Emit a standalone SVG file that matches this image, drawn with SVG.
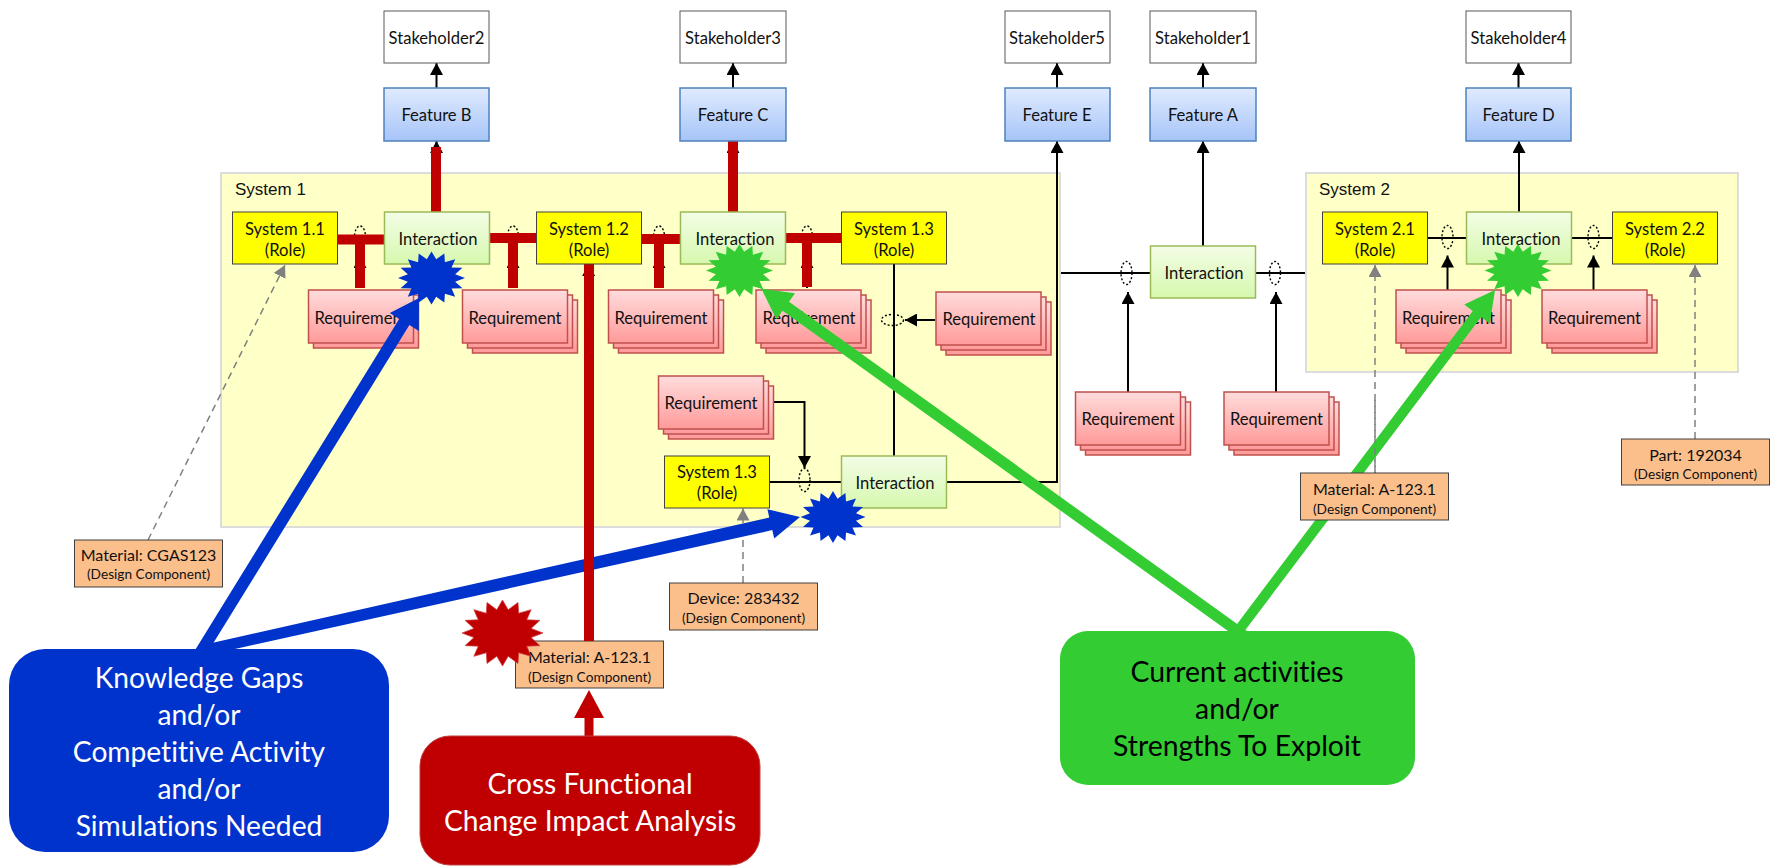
<svg xmlns="http://www.w3.org/2000/svg" xmlns:xlink="http://www.w3.org/1999/xlink" width="1775" height="866" viewBox="0 0 1775 866">
<style>
text{font-family:Lato,"Liberation Sans",sans-serif;fill:#111;text-anchor:middle;font-size:16.6px;font-variant-ligatures:none;transform:translateY(.7px)}
.sysbg{fill:#ffffc8;stroke:#dcdcdc;stroke-width:2}
text.syslab{font-family:"Liberation Sans",Arial,sans-serif;text-anchor:start;font-size:17px}
.sh{fill:#fff;stroke:#595959;stroke-width:1}
.fe{fill:url(#gf);stroke:#4f81bd;stroke-width:1.5}
.in{fill:url(#gi);stroke:#9bbb59;stroke-width:1.5}
.rq{fill:url(#gr);stroke:#c0504d;stroke-width:1.5}
.ro{fill:#ff0;stroke:#404040;stroke-width:1}
.dc{fill:#fbbf8c;stroke:#404040;stroke-width:1}
text.m{font-size:16px}
text.sm{font-size:13.7px}
text.big{font-size:28.2px;fill:#fff}
text.bk{font-size:28.4px;fill:#000}
.k{stroke:#000;stroke-width:2;fill:none}
.km{marker-end:url(#ah)}
.r{stroke:#c00000;stroke-width:10;fill:none}
.d{stroke:#808080;stroke-width:1.5;stroke-dasharray:7 5;fill:none}
.dm{marker-end:url(#gh)}
.el{fill:none;stroke:#000;stroke-width:1.4;stroke-dasharray:2 2}
.blue{fill:#0033cc}.green{fill:#33cc33}.red{fill:#c00000}
</style>
<defs>
<linearGradient id="gf" x1="0" y1="0" x2="0" y2="1"><stop offset="0" stop-color="#e0ebff"/><stop offset="1" stop-color="#a6c4f8"/></linearGradient>
<linearGradient id="gi" x1="0" y1="0" x2="0" y2="1"><stop offset="0" stop-color="#f3fde6"/><stop offset="1" stop-color="#d6f8ae"/></linearGradient>
<linearGradient id="gr" x1="0" y1="0" x2="0" y2="1"><stop offset="0" stop-color="#ffdcdc"/><stop offset="1" stop-color="#ff9a9a"/></linearGradient>
<marker id="ah" markerUnits="userSpaceOnUse" markerWidth="13" markerHeight="13" refX="12" refY="6.5" orient="auto"><path d="M0 0L12 6.5L0 13z" fill="#000"/></marker>
<marker id="gh" markerUnits="userSpaceOnUse" markerWidth="13" markerHeight="13" refX="12" refY="6.5" orient="auto"><path d="M0 0L12 6.5L0 13z" fill="#808080"/></marker>
<polygon id="star" points="0,-1 .14,-.706 .383,-.924 .4,-.599 .707,-.707 .599,-.4 .924,-.383 .706,-.14 1,0 .706,.14 .924,.383 .599,.4 .707,.707 .4,.599 .383,.924 .14,.706 0,1 -.14,.706 -.383,.924 -.4,.599 -.707,.707 -.599,.4 -.924,.383 -.706,.14 -1,0 -.706,-.14 -.924,-.383 -.599,-.4 -.707,-.707 -.4,-.599 -.383,-.924 -.14,-.706"/>
<g id="rq3"><rect class="rq" x="10" y="10" width="105" height="53"/><rect class="rq" x="5" y="5" width="105" height="53"/><rect class="rq" width="105" height="53"/></g>
</defs>

<g id="system1"><rect class="sysbg" x="221" y="173" width="839" height="354"/><text class="syslab" x="235" y="194">System 1</text></g>
<g id="system2"><rect class="sysbg" x="1306" y="173" width="432" height="199"/><text class="syslab" x="1319" y="194">System 2</text></g>

<g id="connectors">
<path class="k km" d="M436.500 88V63"/><path class="k km" d="M733 88V63"/><path class="k km" d="M1057 88V63"/><path class="k km" d="M1203 88V63"/><path class="k km" d="M1518.500 88V63"/>
<path class="k km" d="M436.500 212V141"/><path class="k km" d="M733 212V141"/>
<path class="k km" d="M360 288V256"/><path class="k km" d="M513 288V256"/><path class="k km" d="M659 288V256"/><path class="k km" d="M807 288V256"/><path class="k km" d="M588.700 400V264"/>
<ellipse class="el" cx="360" cy="237" rx="5.500" ry="11"/><ellipse class="el" cx="513" cy="237" rx="5.500" ry="11"/><ellipse class="el" cx="659" cy="237" rx="5.500" ry="11"/><ellipse class="el" cx="807" cy="237" rx="5.500" ry="11"/>
<path class="r" d="M337 239.500H384M490 238H536M641 239H682M786 238H841M360 240V288M513 238V288M659 240V288M807 238V287M436 147V212M733 141V214M589 264V641"/>
<path class="k" d="M894 264V456M769 482H841"/>
<path class="k km" d="M946 482H1057V141"/>
<path class="k km" d="M935 320H905"/><ellipse class="el" cx="892.500" cy="320" rx="11" ry="5.500"/>
<path class="k km" d="M764 402H804.500V468"/><ellipse class="el" cx="804.500" cy="480" rx="5.500" ry="11.500"/>
<path class="k" d="M1061 273H1150M1256 273H1305"/><ellipse class="el" cx="1126.500" cy="273" rx="5.500" ry="11.500"/><ellipse class="el" cx="1275" cy="273" rx="5.500" ry="11.500"/>
<path class="k km" d="M1128 392V292"/><path class="k km" d="M1276 392V292"/>
<path class="k km" d="M1203 246V141"/><path class="k km" d="M1519 212V141"/>
<path class="k" d="M1427 238H1466M1572 238H1612"/><ellipse class="el" cx="1447.500" cy="237" rx="5.500" ry="11.500"/><ellipse class="el" cx="1593.500" cy="237" rx="5.500" ry="11.500"/>
<path class="k km" d="M1447.500 290V255.500"/><path class="k km" d="M1593.500 290V255.500"/>
<path class="d dm" d="M148 540L285 265"/><path class="d dm" d="M1375 473V265"/><path class="d dm" d="M1695 439V265"/><path class="d dm" d="M743 583V508.500"/>
</g>

<g id="stakeholder2"><rect class="sh" x="384" y="11" width="105" height="52"/><text x="436.500" y="43">Stakeholder2</text></g>
<g id="stakeholder3"><rect class="sh" x="680" y="11" width="106" height="52"/><text x="733" y="43">Stakeholder3</text></g>
<g id="stakeholder5"><rect class="sh" x="1005" y="11" width="105" height="52"/><text x="1057" y="43">Stakeholder5</text></g>
<g id="stakeholder1"><rect class="sh" x="1150" y="11" width="106" height="52"/><text x="1203" y="43">Stakeholder1</text></g>
<g id="stakeholder4"><rect class="sh" x="1466" y="11" width="105" height="52"/><text x="1518.500" y="43">Stakeholder4</text></g>
<g id="featureB"><rect class="fe" x="384" y="88" width="105" height="53"/><text x="436.500" y="120">Feature B</text></g>
<g id="featureC"><rect class="fe" x="680" y="88" width="106" height="53"/><text x="733" y="120">Feature C</text></g>
<g id="featureE"><rect class="fe" x="1005" y="88" width="105" height="53"/><text x="1057" y="120">Feature E</text></g>
<g id="featureA"><rect class="fe" x="1150" y="88" width="106" height="53"/><text x="1203" y="120">Feature A</text></g>
<g id="featureD"><rect class="fe" x="1466" y="88" width="105" height="53"/><text x="1518.500" y="120">Feature D</text></g>

<g id="role11"><rect class="ro" x="232.500" y="212" width="105" height="52"/><text x="285" y="234.500">System 1.1</text><text x="285" y="255">(Role)</text></g>
<g id="role12"><rect class="ro" x="536.500" y="212" width="105" height="52"/><text x="589" y="234.500">System 1.2</text><text x="589" y="255">(Role)</text></g>
<g id="role13a"><rect class="ro" x="841.500" y="212" width="105" height="52"/><text x="894" y="234.500">System 1.3</text><text x="894" y="255">(Role)</text></g>
<g id="role13b"><rect class="ro" x="664.500" y="456" width="105" height="52"/><text x="717" y="477.500">System 1.3</text><text x="717" y="498">(Role)</text></g>
<g id="role21"><rect class="ro" x="1322.500" y="212" width="105" height="52"/><text x="1375" y="234.500">System 2.1</text><text x="1375" y="255">(Role)</text></g>
<g id="role22"><rect class="ro" x="1612.500" y="212" width="105" height="52"/><text x="1665" y="234.500">System 2.2</text><text x="1665" y="255">(Role)</text></g>

<g id="int1"><rect class="in" x="384.500" y="212" width="105" height="52"/><text x="438" y="244">Interaction</text></g>
<g id="int2"><rect class="in" x="680.500" y="212" width="105" height="52"/><text x="735" y="244">Interaction</text></g>
<g id="int3"><rect class="in" x="841.500" y="456" width="105" height="52"/><text x="895" y="488">Interaction</text></g>
<g id="int4"><rect class="in" x="1150.500" y="246" width="105" height="52"/><text x="1204" y="278">Interaction</text></g>
<g id="int5"><rect class="in" x="1466.500" y="212" width="105" height="52"/><text x="1521" y="244">Interaction</text></g>

<g id="req1"><rect class="rq" x="313.500" y="295" width="105" height="53"/><rect class="rq" x="308.500" y="290" width="105" height="53"/><text x="361" y="323">Requirement</text></g>
<g id="req2"><use xlink:href="#rq3" x="462.500" y="290"/><text x="515" y="323">Requirement</text></g>
<g id="req3"><use xlink:href="#rq3" x="608.500" y="290"/><text x="661" y="323">Requirement</text></g>
<g id="req4"><use xlink:href="#rq3" x="756" y="290"/><text x="809" y="323">Requirement</text></g>
<g id="req5"><use xlink:href="#rq3" x="936" y="292"/><text x="989" y="324">Requirement</text></g>
<g id="req6"><use xlink:href="#rq3" x="658.500" y="376"/><text x="711" y="408">Requirement</text></g>
<g id="req7"><use xlink:href="#rq3" x="1075.500" y="392"/><text x="1128" y="424">Requirement</text></g>
<g id="req8"><use xlink:href="#rq3" x="1224" y="392"/><text x="1276.500" y="424">Requirement</text></g>
<g id="req9"><use xlink:href="#rq3" x="1396" y="290"/><text x="1448.500" y="323">Requirement</text></g>
<g id="req10"><use xlink:href="#rq3" x="1542" y="290"/><text x="1594.500" y="323">Requirement</text></g>

<g id="comp1"><rect class="dc" x="74.500" y="540" width="148" height="47"/><text class="m" x="148.500" y="560">Material: CGAS123</text><text class="sm" x="148.500" y="578">(Design Component)</text></g>
<g id="comp2"><rect class="dc" x="669.500" y="583" width="148" height="47"/><text class="m" x="743.500" y="603">Device: 283432</text><text class="sm" x="743.500" y="622">(Design Component)</text></g>
<g id="comp3"><rect class="dc" x="515.500" y="641" width="148" height="47"/><text class="m" x="589.500" y="662">Material: A-123.1</text><text class="sm" x="589.500" y="681">(Design Component)</text></g>
<g id="comp5"><rect class="dc" x="1621.500" y="439" width="148" height="46"/><text class="m" x="1695.500" y="460">Part: 192034</text><text class="sm" x="1695.500" y="478">(Design Component)</text></g>

<g id="highlights">
<use xlink:href="#star" class="blue" transform="translate(431.500 278) scale(33.500 26.500)"/>
<use xlink:href="#star" class="green" transform="translate(739.500 270.500) scale(33.500 26.500)"/>
<use xlink:href="#star" class="green" transform="translate(1518 270.500) scale(33.500 26.500)"/>
<use xlink:href="#star" class="blue" transform="translate(833 517) scale(32.500 26)"/>
<use xlink:href="#star" class="red" stroke="#d04040" stroke-width=".02" transform="translate(502.500 633) scale(40.500 33)"/>
<polygon class="blue" points="419,298 418.800,330.900 409.400,325.100 204.100,658.100 193.900,651.900 399.200,318.900 389.800,313.100"/>
<polygon class="blue" points="800,517 774.200,538.400 772.300,530.100 215,653.400 205,644.400 769.300,517.500 767.400,509.200"/>
<path class="r" d="M589 500V641"/>
<polygon class="green" points="761.400,288.700 795,293.200 789,301.700 1253.200,635.500 1246.800,644.500 782.600,310.700 776.400,319.200"/>
<polygon class="green" points="1495,290 1489.800,323.600 1481.100,317.100 1235.500,643.100 1227.300,636.900 1472.800,310.900 1464.200,304.400"/>
<polygon class="red" points="589,690 604,718 593.500,718 593.500,740 584.500,740 584.500,718 574,718"/>
<path class="d" d="M1375 400V473"/>
</g>

<g id="comp4"><rect class="dc" x="1300.500" y="473" width="148" height="47"/><text class="m" x="1374.500" y="494">Material: A-123.1</text><text class="sm" x="1374.500" y="513">(Design Component)</text></g>

<g id="callout-gaps"><rect class="blue" x="9" y="649" width="380" height="203" rx="36"/><text class="big" x="199" y="687">Knowledge Gaps</text><text class="big" x="199" y="724">and/or</text><text class="big" x="199" y="761">Competitive Activity</text><text class="big" x="199" y="798">and/or</text><text class="big" x="199" y="835">Simulations Needed</text></g>
<g id="callout-change"><rect class="red" x="420" y="736" width="340" height="129" rx="30" stroke="#c04040"/><text class="big" x="590" y="793">Cross Functional</text><text class="big" x="590" y="830">Change Impact Analysis</text></g>
<g id="callout-current"><rect class="green" x="1060" y="631" width="355" height="154" rx="28"/><text class="bk" x="1237" y="681">Current activities</text><text class="bk" x="1237" y="718">and/or</text><text class="bk" x="1237" y="755">Strengths To Exploit</text></g>
</svg>
